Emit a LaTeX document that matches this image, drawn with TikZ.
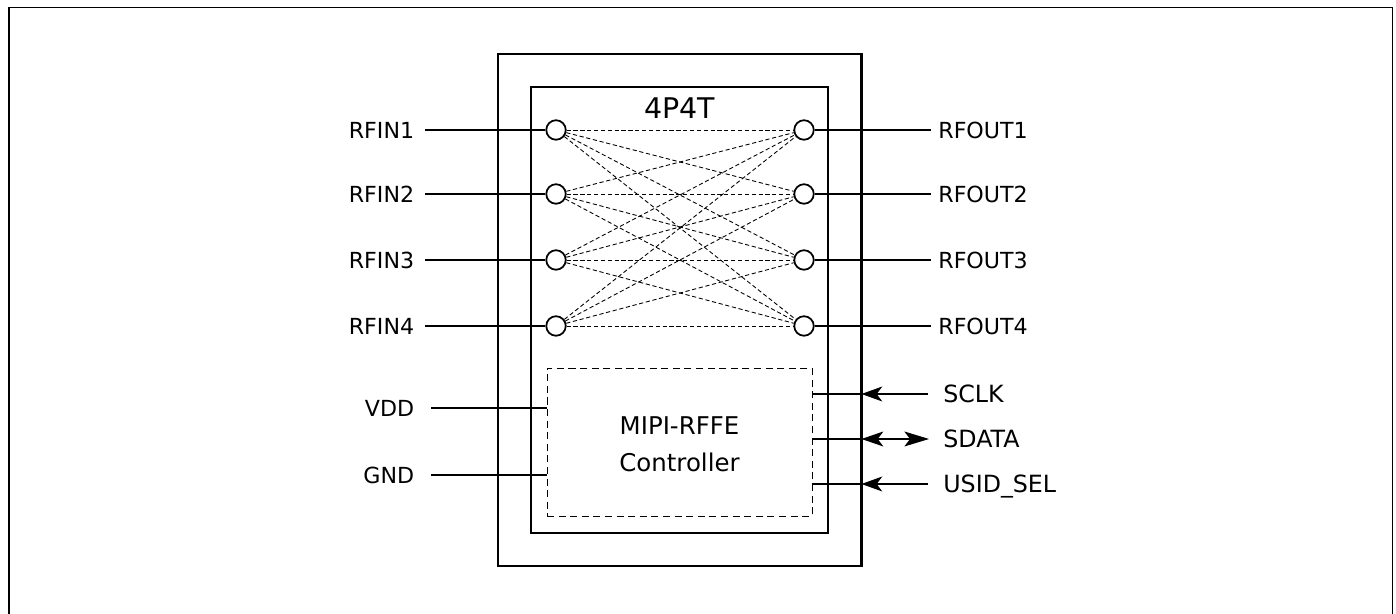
\documentclass[tikz,border=0pt]{standalone}
\usepackage{fontspec}
\setmainfont{DejaVu Sans}
\usetikzlibrary{arrows.meta}
\usetikzlibrary{positioning}
\tikzset{
    port/.style={
      circle,
      draw=black,
      fill=white,
      line width=1pt,
      minimum size=0.39cm,
      inner sep=0pt
    },
    pinname/.style={
      font=\fontsize{12.6pt}{15pt}\selectfont,
      text height=9.2pt,
      text depth=0pt,
      inner sep=0pt
    },
    ctrlname/.style={
      font=\fontsize{13.5pt}{16pt}\selectfont,
      text height=9.8pt,
      text depth=0pt,
      inner sep=0pt
    },
    wire/.style={line width=0.6pt},
    link/.style={line width=0.5pt,dash pattern=on 2.4pt off 1.5pt},
    intip/.style={-{Stealth[length=11.8pt,width=8.5pt,inset=3.2pt]}},
    bothtip/.style={{Stealth[length=12.4pt,width=8.5pt,inset=3.2pt]}-{Stealth[length=14pt,width=8.5pt,inset=3.2pt]}},
}
\begin{document}
\begin{tikzpicture}
    \useasboundingbox (0,0) rectangle (27.92,12.28);
    % frame, runs off the page at the bottom
    \draw[line width=0.57pt] (0.18,0) -- (0.18,12.13) -- (27.85,12.13) -- (27.85,0);

    % package and die
    \node[draw,line width=1.6pt,minimum width=7.27cm,minimum height=10.24cm,inner sep=0pt,outer sep=0pt] (Pkg) at (13.595,6.08) {};
    \node[draw,line width=1.1pt,minimum width=5.94cm,minimum height=8.92cm,inner sep=0pt,outer sep=0pt] (Die) at (13.59,6.08) {};
    \node[font=\fontsize{16.2pt}{18pt}\selectfont,inner sep=0pt] (Title) at (13.59,10.12) {4P4T};

    % ports
    \foreach \n/\y in {1/9.68,2/8.40,3/7.08,4/5.76} {
      \draw (11.12,\y) node[port] (In\n) {};
      \draw (16.08,\y) node[port] (Out\n) {};
      \coordinate (InEnd\n) at (8.5,\y);
      \coordinate (OutEnd\n) at (18.62,\y);
      \draw (8.29,\y) node[pinname,anchor=east] (InName\n) {RFIN\n};
      \draw (18.76,\y) node[pinname,anchor=west] (OutName\n) {RFOUT\n};
      \draw[wire] (InEnd\n) -- (In\n);
      \draw[wire] (Out\n) -- (OutEnd\n);
    }
    \foreach \a in {1,2,3,4} {
      \foreach \b in {1,2,3,4} {
        \path (In\a) edge[link] (Out\b);
      }
    }

    % controller
    \node[draw,line width=0.5pt,dash pattern=on 4pt off 2.6pt,minimum width=5.3cm,minimum height=2.96cm,inner sep=0pt,outer sep=0pt] (Ctrl) at (13.59,3.44) {};
    \node[align=center,inner sep=0pt,font=\fontsize{13.9pt}{21pt}\selectfont] (CtrlText) at (13.59,3.40) {MIPI-RFFE\\Controller};

    % supply pins
    \draw (8.29,4.12) node[pinname,anchor=east] (VddName) {VDD};
    \draw (8.29,2.78) node[pinname,anchor=east] (GndName) {GND};
    \coordinate (VddEnd) at (8.62,4.12);
    \coordinate (GndEnd) at (8.62,2.78);
    \draw[wire] (VddEnd) -- (Ctrl.west |- VddEnd);
    \draw[wire] (GndEnd) -- (Ctrl.west |- GndEnd);

    % control pins
    \draw (18.86,4.40) node[ctrlname,anchor=west] (SclkName) {SCLK};
    \draw (18.86,3.50) node[ctrlname,anchor=west] (SdataName) {SDATA};
    \draw (18.86,2.60) node[ctrlname,anchor=west] (UsidName) {USID\_SEL};
    \coordinate (SclkEnd) at (18.56,4.40);
    \coordinate (SdataEnd) at (18.58,3.50);
    \coordinate (UsidEnd) at (18.56,2.60);
    \draw[wire] (Ctrl.east |- SclkEnd) -- (Pkg.east |- SclkEnd);
    \draw[wire] (Ctrl.east |- SdataEnd) -- (Pkg.east |- SdataEnd);
    \draw[wire] (Ctrl.east |- UsidEnd) -- (Pkg.east |- UsidEnd);
    \draw[wire,intip] (SclkEnd) -- (Pkg.east |- SclkEnd);
    \draw[wire,bothtip] (Pkg.east |- SdataEnd) -- (SdataEnd);
    \draw[wire,intip] (UsidEnd) -- (Pkg.east |- UsidEnd);
\end{tikzpicture}
\end{document}
